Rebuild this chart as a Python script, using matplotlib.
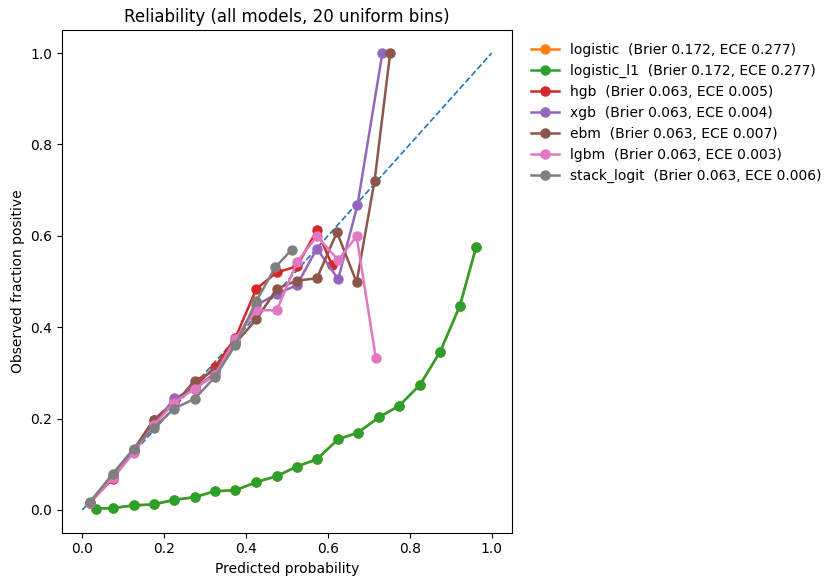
import matplotlib
matplotlib.use("Agg")
import matplotlib.pyplot as plt

# mean predicted probability / observed fraction per bin
x_logistic = [0.033, 0.074, 0.125, 0.174, 0.224, 0.274, 0.324, 0.374, 0.425, 0.475,
              0.524, 0.573, 0.625, 0.673, 0.725, 0.774, 0.825, 0.874, 0.922, 0.962]
y_logistic = [0.003, 0.004, 0.010, 0.012, 0.022, 0.028, 0.041, 0.043, 0.061, 0.074,
              0.095, 0.111, 0.155, 0.169, 0.203, 0.228, 0.274, 0.346, 0.446, 0.575]

x_hgb = [0.018, 0.074, 0.125, 0.174, 0.224, 0.274, 0.324, 0.374, 0.425, 0.475, 0.524, 0.573, 0.610]
y_hgb = [0.016, 0.068, 0.128, 0.197, 0.236, 0.270, 0.313, 0.377, 0.484, 0.520, 0.533, 0.612, 0.536]

x_xgb = [0.018, 0.074, 0.125, 0.174, 0.224, 0.274, 0.324, 0.374, 0.425, 0.475, 0.524, 0.573, 0.625, 0.672, 0.733]
y_xgb = [0.016, 0.072, 0.128, 0.185, 0.244, 0.265, 0.300, 0.370, 0.448, 0.473, 0.492, 0.572, 0.505, 0.667, 1.0]

x_ebm = [0.018, 0.074, 0.125, 0.174, 0.224, 0.274, 0.324, 0.374, 0.425, 0.475, 0.524, 0.573, 0.622, 0.670, 0.714, 0.752]
y_ebm = [0.016, 0.075, 0.132, 0.197, 0.230, 0.283, 0.305, 0.365, 0.417, 0.484, 0.502, 0.507, 0.608, 0.498, 0.721, 1.0]

x_lgbm = [0.018, 0.074, 0.125, 0.174, 0.224, 0.274, 0.324, 0.374, 0.425, 0.475, 0.524, 0.573, 0.625, 0.670, 0.717]
y_lgbm = [0.016, 0.070, 0.125, 0.185, 0.235, 0.265, 0.295, 0.375, 0.437, 0.437, 0.542, 0.599, 0.547, 0.599, 0.332]

x_stack = [0.018, 0.074, 0.125, 0.174, 0.224, 0.274, 0.324, 0.374, 0.425, 0.471, 0.512]
y_stack = [0.017, 0.079, 0.134, 0.179, 0.222, 0.243, 0.291, 0.361, 0.457, 0.531, 0.570]

models = ["logistic", "logistic_l1", "hgb", "xgb", "ebm", "lgbm", "stack_logit"]
brier = [0.172, 0.172, 0.063, 0.063, 0.063, 0.063, 0.063]
ece = [0.277, 0.277, 0.005, 0.004, 0.007, 0.003, 0.006]
curves = [(x_logistic, y_logistic), (x_logistic, y_logistic), (x_hgb, y_hgb), (x_xgb, y_xgb),
          (x_ebm, y_ebm), (x_lgbm, y_lgbm), (x_stack, y_stack)]
colors = ["C1", "C2", "C3", "C4", "C5", "C6", "C7"]

fig = plt.figure(figsize=(8.26, 5.81), dpi=100)
ax = fig.add_axes([0.075, 0.083, 0.545, 0.865])
ax.plot([0, 1], [0, 1], "--", color="C0", lw=1.2)
for name, b, e, (xs, ys), c in zip(models, brier, ece, curves, colors):
    ax.plot(xs, ys, marker="o", color=c, lw=1.8, ms=6.5,
            label=f"{name}  (Brier {b:.3f}, ECE {e:.3f})")

ax.set_xlabel("Predicted probability")
ax.set_ylabel("Observed fraction positive")
ax.set_title("Reliability (all models, 20 uniform bins)")
ax.legend(loc="upper left", bbox_to_anchor=(1.015, 1.0), frameon=False)

fig.savefig("out.png", dpi=100)
